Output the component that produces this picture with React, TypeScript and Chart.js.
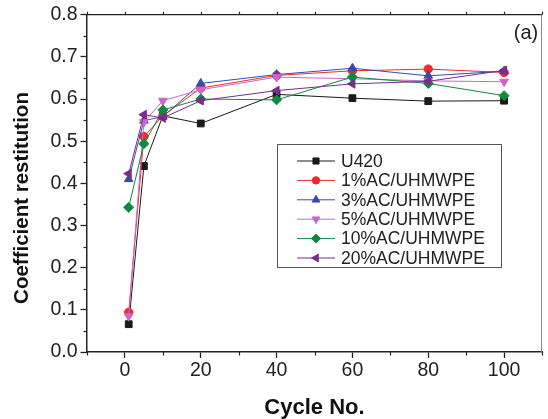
import React, { useEffect, useRef } from "react";
import { Chart, registerables } from "chart.js";
import { drawPoint } from "chart.js/helpers";

Chart.register(...registerables);

// ---- data ----
const cycles = [1, 5, 10, 20, 40, 60, 80, 100];
const u420 = [0.066, 0.441, 0.56, 0.542, 0.611, 0.602, 0.595, 0.596];
const ac1 = [0.094, 0.511, 0.56, 0.626, 0.656, 0.667, 0.671, 0.663];
const ac3 = [0.41, 0.549, 0.558, 0.637, 0.658, 0.673, 0.655, 0.666];
const ac5 = [0.085, 0.545, 0.596, 0.622, 0.652, 0.648, 0.643, 0.641];
const ac10 = [0.343, 0.494, 0.574, 0.6, 0.598, 0.652, 0.637, 0.608];
const ac20 = [0.423, 0.563, 0.555, 0.596, 0.62, 0.636, 0.642, 0.668];
const seriesLabels = ["U420", "1%AC/UHMWPE", "3%AC/UHMWPE", "5%AC/UHMWPE", "10%AC/UHMWPE", "20%AC/UHMWPE"];
const xTitle = "Cycle No.";
const yTitle = "Coefficient restitution";
const panelLabel = "(a)";

const seriesValues = [u420, ac1, ac3, ac5, ac10, ac20];
const seriesColors = ["#1a1a1a", "#f02a2a", "#3a4aa8", "#cc66cc", "#0e8a3e", "#7a2c8c"];
const seriesStyles = ["rect", "circle", "triangle", "triangle", "rectRot", "triangle"];
const seriesRotations = [0, 0, 0, 180, 0, -90];
const seriesRadius = [4.8, 4.2, 5, 5, 5, 5];

const FONT = "'Liberation Sans', Arial, Helvetica, sans-serif";

const extrasPlugin = {
  id: "extras",
  afterDraw(chart: any) {
    const { ctx, chartArea: ca, scales } = chart;
    const xs = scales.x;
    const ys = scales.y;
    ctx.save();
    // frame: top and right
    ctx.strokeStyle = "#222";
    ctx.lineWidth = 1.3;
    ctx.beginPath();
    ctx.moveTo(ca.left, ca.top);
    ctx.lineTo(ca.right, ca.top);
    ctx.stroke();
    ctx.strokeStyle = "#8a8a8a";
    ctx.lineWidth = 1;
    ctx.beginPath();
    ctx.moveTo(ca.right - 0.5, ca.top);
    ctx.lineTo(ca.right - 0.5, ca.bottom);
    ctx.stroke();

    // minor ticks x (bottom) and top ticks
    ctx.strokeStyle = "#222";
    ctx.lineWidth = 1.2;
    for (let v = -10; v <= 110; v += 10) {
      const px = Math.round(xs.getPixelForValue(v)) + 0.5;
      if (v % 20 !== 0) {
        ctx.beginPath();
        ctx.moveTo(px, ca.bottom);
        ctx.lineTo(px, ca.bottom + 3.5);
        ctx.stroke();
      }
      ctx.beginPath();
      ctx.moveTo(px, ca.top);
      ctx.lineTo(px, ca.top - 3);
      ctx.stroke();
    }
    // minor ticks y
    for (let k = 1; k < 16; k += 2) {
      const py = Math.round(ys.getPixelForValue(k * 0.05)) + 0.5;
      ctx.beginPath();
      ctx.moveTo(ca.left, py);
      ctx.lineTo(ca.left - 3.5, py);
      ctx.stroke();
    }

    // y axis title
    ctx.save();
    ctx.translate(22, 198);
    ctx.rotate(-Math.PI / 2);
    ctx.fillStyle = "#111";
    ctx.font = `bold 20.5px ${FONT}`;
    ctx.textAlign = "center";
    ctx.textBaseline = "middle";
    ctx.fillText(yTitle, 0, 0);
    ctx.restore();

    // panel label
    ctx.fillStyle = "#222";
    ctx.font = `20px ${FONT}`;
    ctx.textAlign = "center";
    ctx.textBaseline = "middle";
    ctx.fillText(panelLabel, 526, 33);

    // legend
    const bx = 277.5, by = 144.5, bw = 224, bh = 123;
    ctx.strokeStyle = "#555";
    ctx.lineWidth = 1;
    ctx.strokeRect(bx, by, bw, bh);
    ctx.font = `17.5px ${FONT}`;
    ctx.textAlign = "left";
    chart.data.datasets.forEach((ds: any, i: number) => {
      const ry = 161 + i * 19.4;
      ctx.strokeStyle = ds.borderColor;
      ctx.lineWidth = 1;
      ctx.beginPath();
      ctx.moveTo(297, ry);
      ctx.lineTo(335, ry);
      ctx.stroke();
      ctx.fillStyle = ds.pointBackgroundColor;
      ctx.strokeStyle = ds.pointBorderColor;
      drawPoint(ctx, { pointStyle: ds.pointStyle, rotation: ds.pointRotation, radius: ds.pointRadius - 0.5, borderWidth: 1 }, 316, ry);
      ctx.fillStyle = "#222";
      ctx.fillText(ds.label, 341, ry + 1);
    });
    ctx.restore();
  },
};

export default function App() {
  const canvasRef = useRef<HTMLCanvasElement | null>(null);

  useEffect(() => {
    const canvas = canvasRef.current;
    if (!canvas) return;
    const datasets = seriesLabels.map((label, i) => ({
      label,
      data: cycles.map((c, j) => ({ x: c, y: seriesValues[i][j] })),
      borderColor: seriesColors[i],
      backgroundColor: seriesColors[i],
      pointBackgroundColor: seriesColors[i],
      pointBorderColor: seriesColors[i],
      pointStyle: seriesStyles[i],
      pointRotation: seriesRotations[i],
      pointRadius: seriesRadius[i],
      pointBorderWidth: 1,
      borderWidth: 1,
      tension: 0,
      fill: false,
      order: seriesLabels.length - i,
    }));

    const chart = new Chart(canvas, {
      type: "line",
      data: { datasets },
      options: {
        responsive: false,
        animation: false,
        events: [],
        layout: { padding: { top: 14, right: 0, left: 0, bottom: 0 } },
        plugins: { legend: { display: false }, tooltip: { enabled: false } },
        scales: {
          x: {
            type: "linear",
            min: -10,
            max: 110,
            afterFit: (s: any) => { s.height = 67; },
            border: { display: true, color: "#222", width: 1.5 },
            grid: {
              display: true,
              drawOnChartArea: false,
              drawTicks: true,
              tickLength: 6,
              tickWidth: 1.3,
              tickColor: (c: any) => (c.tick && c.tick.value % 20 === 0 ? "#222" : "rgba(0,0,0,0)"),
            },
            ticks: {
              stepSize: 10,
              autoSkip: false,
              maxRotation: 0,
              padding: 1,
              color: "#222",
              font: { family: FONT, size: 19.5 },
              callback: (v: any) => (v % 20 === 0 && v >= 0 && v <= 100 ? String(v) : ""),
            },
            title: {
              display: true,
              text: xTitle,
              color: "#111",
              font: { family: FONT, size: 22, weight: "bold", lineHeight: 1 },
              padding: { top: 0, bottom: 0 },
            },
          },
          y: {
            type: "linear",
            min: 0,
            max: 0.8,
            afterFit: (s: any) => { s.width = 87; },
            border: { display: true, color: "#222", width: 1.5 },
            grid: {
              display: true,
              drawOnChartArea: false,
              drawTicks: true,
              tickLength: 6.5,
              tickWidth: 1.3,
              tickColor: (c: any) => (c.tick && Math.round(c.tick.value * 100) % 10 === 0 ? "#222" : "rgba(0,0,0,0)"),
            },
            ticks: {
              stepSize: 0.05,
              autoSkip: false,
              padding: 3,
              color: "#222",
              font: { family: FONT, size: 19.5 },
              callback: (v: any) => (Math.round(v * 100) % 10 === 0 ? Number(v).toFixed(1) : ""),
            },
            title: { display: false },
          },
        },
      },
      plugins: [extrasPlugin],
    });
    return () => chart.destroy();
  }, []);

  return (
    <div style={{ position: "fixed", left: 0, top: 0, width: 548, height: 419, background: "#fff" }}>
      <canvas ref={canvasRef} width={548} height={419} style={{ display: "block" }} />
    </div>
  );
}
